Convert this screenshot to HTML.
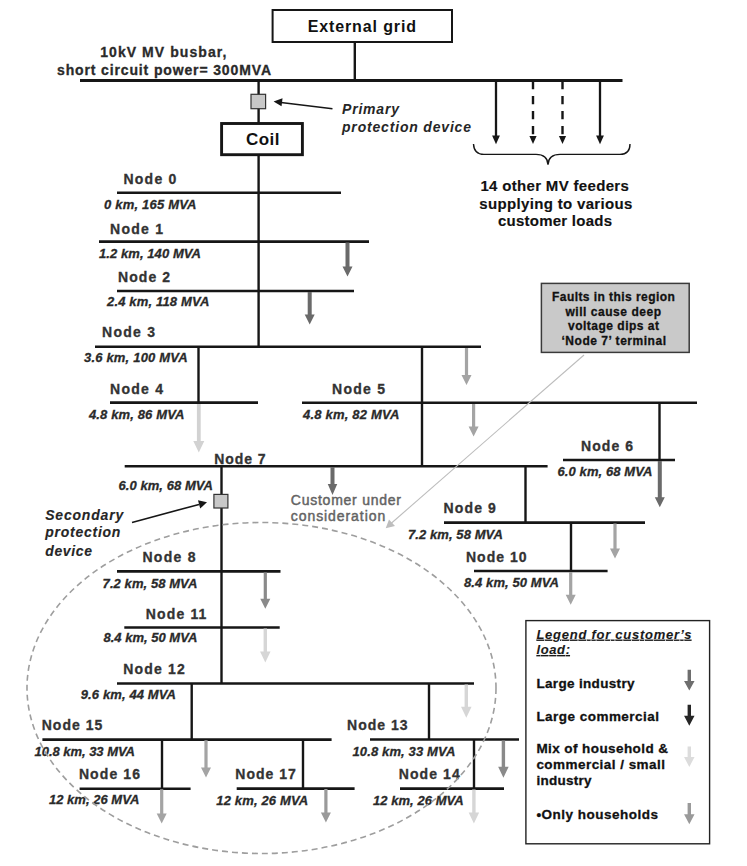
<!DOCTYPE html>
<html><head><meta charset="utf-8"><style>
html,body{margin:0;padding:0;background:#fff;}
svg{display:block;font-family:"Liberation Sans",sans-serif;}
</style></head><body>
<svg width="747" height="866" viewBox="0 0 747 866">
<rect width="747" height="866" fill="#fff"/>
<rect x="272.6" y="10" width="179.4" height="32" fill="#fff" stroke="#161616" stroke-width="2"/>
<text x="307.7" y="31.7" font-size="16" font-weight="bold" font-style="normal" fill="#111" textLength="108.3" lengthAdjust="spacing" stroke="none">External grid</text>
<line x1="354.8" y1="42" x2="354.8" y2="80" stroke="#161616" stroke-width="2.4"/>
<line x1="80" y1="80.6" x2="622.5" y2="80.6" stroke="#161616" stroke-width="3"/>
<text x="100.2" y="56.8" font-size="14" font-weight="bold" font-style="normal" fill="#2a2a2a" textLength="126.2" lengthAdjust="spacing"  stroke="#2a2a2a" stroke-width="0.3">10kV MV busbar,</text>
<text x="57" y="74.5" font-size="14" font-weight="bold" font-style="normal" fill="#2a2a2a" textLength="214" lengthAdjust="spacing"  stroke="#2a2a2a" stroke-width="0.3">short circuit power= 300MVA</text>
<line x1="258.6" y1="80" x2="258.6" y2="347" stroke="#161616" stroke-width="2.4"/>
<rect x="251" y="94.3" width="14.6" height="14.4" fill="#c8c8c8" stroke="#333" stroke-width="1.2"/>
<line x1="332.5" y1="108.7" x2="281" y2="102.4" stroke="#161616" stroke-width="1.5"/>
<path d="M273.6,101.5 L282.5,98.3 L281.5,106.3 Z" fill="#161616"/>
<text x="342" y="113.6" font-size="14" font-weight="bold" font-style="italic" fill="#262626" textLength="57" lengthAdjust="spacing" stroke="none">Primary</text>
<text x="342" y="131.6" font-size="14" font-weight="bold" font-style="italic" fill="#262626" textLength="129" lengthAdjust="spacing" stroke="none">protection device</text>
<rect x="221.6" y="123.5" width="80.8" height="31.2" fill="#fff" stroke="#161616" stroke-width="2.9"/>
<text x="246" y="145.4" font-size="17" font-weight="bold" font-style="normal" fill="#111" textLength="33.5" lengthAdjust="spacing" stroke="none">Coil</text>
<line x1="496" y1="80" x2="496" y2="137" stroke="#161616" stroke-width="2.3"/>
<path d="M492.1,135.6 L499.9,135.6 L496,144.2 Z" fill="#161616"/>
<line x1="533" y1="81" x2="533" y2="136.5" stroke="#161616" stroke-width="2.4" stroke-dasharray="8.3,6.7"/>
<path d="M529.4,136 L536.6,136 L533,144 Z" fill="#161616"/>
<line x1="562.5" y1="81" x2="562.5" y2="136.5" stroke="#161616" stroke-width="2.4" stroke-dasharray="8.3,6.7"/>
<path d="M558.9,136 L566.1,136 L562.5,144 Z" fill="#161616"/>
<line x1="600" y1="80" x2="600" y2="137" stroke="#161616" stroke-width="2.3"/>
<path d="M596.1,135.6 L603.9,135.6 L600,144.2 Z" fill="#161616"/>
<path d="M473.5,144 Q474,154.4 484,154.4 L536,154.4 Q547.5,154.4 548,164.6 Q548.5,154.4 560,154.4 L620,154.4 Q630,154.4 630,144" fill="none" stroke="#161616" stroke-width="1.4"/>
<text x="480.4" y="190.8" font-size="15" font-weight="bold" font-style="normal" fill="#111" textLength="148.4" lengthAdjust="spacing" stroke="#111" stroke-width="0.15">14 other MV feeders</text>
<text x="479.3" y="208.5" font-size="15" font-weight="bold" font-style="normal" fill="#111" textLength="153.1" lengthAdjust="spacing" stroke="#111" stroke-width="0.15">supplying to various</text>
<text x="498" y="225.6" font-size="15" font-weight="bold" font-style="normal" fill="#111" textLength="114" lengthAdjust="spacing" stroke="#111" stroke-width="0.15">customer loads</text>
<text x="123.4" y="184" font-size="14" font-weight="bold" font-style="normal" fill="#333" textLength="53.0" lengthAdjust="spacing" stroke="#333" stroke-width="0.3">Node 0</text>
<text x="110" y="233.5" font-size="14" font-weight="bold" font-style="normal" fill="#333" textLength="53" lengthAdjust="spacing" stroke="#333" stroke-width="0.3">Node 1</text>
<text x="118" y="281.7" font-size="14" font-weight="bold" font-style="normal" fill="#333" textLength="52" lengthAdjust="spacing" stroke="#333" stroke-width="0.3">Node 2</text>
<text x="102" y="337" font-size="14" font-weight="bold" font-style="normal" fill="#333" textLength="53" lengthAdjust="spacing" stroke="#333" stroke-width="0.3">Node 3</text>
<text x="110" y="393.6" font-size="14" font-weight="bold" font-style="normal" fill="#333" textLength="53" lengthAdjust="spacing" stroke="#333" stroke-width="0.3">Node 4</text>
<text x="332" y="393.5" font-size="14" font-weight="bold" font-style="normal" fill="#333" textLength="53" lengthAdjust="spacing" stroke="#333" stroke-width="0.3">Node 5</text>
<text x="581" y="451" font-size="14" font-weight="bold" font-style="normal" fill="#333" textLength="52" lengthAdjust="spacing" stroke="#333" stroke-width="0.3">Node 6</text>
<text x="214.3" y="463.5" font-size="14" font-weight="bold" font-style="normal" fill="#333" textLength="51.3" lengthAdjust="spacing" stroke="#333" stroke-width="0.3">Node 7</text>
<text x="443.5" y="513.2" font-size="14" font-weight="bold" font-style="normal" fill="#333" textLength="52.4" lengthAdjust="spacing" stroke="#333" stroke-width="0.3">Node 9</text>
<text x="465.9" y="562.4" font-size="14" font-weight="bold" font-style="normal" fill="#333" textLength="60.7" lengthAdjust="spacing" stroke="#333" stroke-width="0.3">Node 10</text>
<text x="142.4" y="562.4" font-size="14" font-weight="bold" font-style="normal" fill="#333" textLength="53.1" lengthAdjust="spacing" stroke="#333" stroke-width="0.3">Node 8</text>
<text x="145.7" y="618.8" font-size="14" font-weight="bold" font-style="normal" fill="#333" textLength="60.7" lengthAdjust="spacing" stroke="#333" stroke-width="0.3">Node 11</text>
<text x="123.2" y="673.7" font-size="14" font-weight="bold" font-style="normal" fill="#333" textLength="61.5" lengthAdjust="spacing" stroke="#333" stroke-width="0.3">Node 12</text>
<text x="41.7" y="729.7" font-size="14" font-weight="bold" font-style="normal" fill="#333" textLength="60.7" lengthAdjust="spacing" stroke="#333" stroke-width="0.3">Node 15</text>
<text x="78.9" y="779.3" font-size="14" font-weight="bold" font-style="normal" fill="#333" textLength="61.1" lengthAdjust="spacing" stroke="#333" stroke-width="0.3">Node 16</text>
<text x="235.3" y="779.3" font-size="14" font-weight="bold" font-style="normal" fill="#333" textLength="60.5" lengthAdjust="spacing" stroke="#333" stroke-width="0.3">Node 17</text>
<text x="347" y="729.8" font-size="14" font-weight="bold" font-style="normal" fill="#333" textLength="60.6" lengthAdjust="spacing" stroke="#333" stroke-width="0.3">Node 13</text>
<text x="398.8" y="779.3" font-size="14" font-weight="bold" font-style="normal" fill="#333" textLength="60.9" lengthAdjust="spacing" stroke="#333" stroke-width="0.3">Node 14</text>
<text x="104" y="209" font-size="13" font-weight="bold" font-style="italic" fill="#2a2a2a" textLength="92.5" lengthAdjust="spacing" stroke="#2a2a2a" stroke-width="0.3">0 km, 165 MVA</text>
<text x="99" y="258.4" font-size="13" font-weight="bold" font-style="italic" fill="#2a2a2a" textLength="102" lengthAdjust="spacing" stroke="#2a2a2a" stroke-width="0.3">1.2 km, 140 MVA</text>
<text x="107" y="306" font-size="13" font-weight="bold" font-style="italic" fill="#2a2a2a" textLength="102.3" lengthAdjust="spacing" stroke="#2a2a2a" stroke-width="0.3">2.4 km, 118 MVA</text>
<text x="84" y="362.3" font-size="13" font-weight="bold" font-style="italic" fill="#2a2a2a" textLength="103.6" lengthAdjust="spacing" stroke="#2a2a2a" stroke-width="0.3">3.6 km, 100 MVA</text>
<text x="89" y="419" font-size="13" font-weight="bold" font-style="italic" fill="#2a2a2a" textLength="95.4" lengthAdjust="spacing" stroke="#2a2a2a" stroke-width="0.3">4.8 km, 86 MVA</text>
<text x="303" y="419" font-size="13" font-weight="bold" font-style="italic" fill="#2a2a2a" textLength="96.3" lengthAdjust="spacing" stroke="#2a2a2a" stroke-width="0.3">4.8 km, 82 MVA</text>
<text x="557.5" y="475.7" font-size="13" font-weight="bold" font-style="italic" fill="#2a2a2a" textLength="95.0" lengthAdjust="spacing" stroke="#2a2a2a" stroke-width="0.3">6.0 km, 68 MVA</text>
<text x="118.5" y="489.5" font-size="13" font-weight="bold" font-style="italic" fill="#2a2a2a" textLength="94.5" lengthAdjust="spacing" stroke="#2a2a2a" stroke-width="0.3">6.0 km, 68 MVA</text>
<text x="408" y="538.5" font-size="13" font-weight="bold" font-style="italic" fill="#2a2a2a" textLength="94.8" lengthAdjust="spacing" stroke="#2a2a2a" stroke-width="0.3">7.2 km, 58 MVA</text>
<text x="464" y="587.3" font-size="13" font-weight="bold" font-style="italic" fill="#2a2a2a" textLength="95" lengthAdjust="spacing" stroke="#2a2a2a" stroke-width="0.3">8.4 km, 50 MVA</text>
<text x="102.6" y="587.7" font-size="13" font-weight="bold" font-style="italic" fill="#2a2a2a" textLength="94.7" lengthAdjust="spacing" stroke="#2a2a2a" stroke-width="0.3">7.2 km, 58 MVA</text>
<text x="103.4" y="642" font-size="13" font-weight="bold" font-style="italic" fill="#2a2a2a" textLength="93.9" lengthAdjust="spacing" stroke="#2a2a2a" stroke-width="0.3">8.4 km, 50 MVA</text>
<text x="80.7" y="699" font-size="13" font-weight="bold" font-style="italic" fill="#2a2a2a" textLength="95.3" lengthAdjust="spacing" stroke="#2a2a2a" stroke-width="0.3">9.6 km, 44 MVA</text>
<text x="34.5" y="755.8" font-size="13" font-weight="bold" font-style="italic" fill="#2a2a2a" textLength="100.5" lengthAdjust="spacing" stroke="#2a2a2a" stroke-width="0.3">10.8 km, 33 MVA</text>
<text x="48.9" y="803.8" font-size="13" font-weight="bold" font-style="italic" fill="#2a2a2a" textLength="90.4" lengthAdjust="spacing" stroke="#2a2a2a" stroke-width="0.3">12 km, 26 MVA</text>
<text x="216.3" y="804.9" font-size="13" font-weight="bold" font-style="italic" fill="#2a2a2a" textLength="91.9" lengthAdjust="spacing" stroke="#2a2a2a" stroke-width="0.3">12 km, 26 MVA</text>
<text x="352.4" y="756" font-size="13" font-weight="bold" font-style="italic" fill="#2a2a2a" textLength="102.9" lengthAdjust="spacing" stroke="#2a2a2a" stroke-width="0.3">10.8 km, 33 MVA</text>
<text x="373" y="805" font-size="13" font-weight="bold" font-style="italic" fill="#2a2a2a" textLength="90.7" lengthAdjust="spacing" stroke="#2a2a2a" stroke-width="0.3">12 km, 26 MVA</text>
<line x1="117" y1="192.8" x2="341" y2="192.8" stroke="#161616" stroke-width="2.6"/>
<line x1="99" y1="241.6" x2="369" y2="241.6" stroke="#161616" stroke-width="2.6"/>
<line x1="117" y1="291" x2="354" y2="291" stroke="#161616" stroke-width="2.6"/>
<line x1="95" y1="346.8" x2="481" y2="346.8" stroke="#161616" stroke-width="2.6"/>
<line x1="198.5" y1="346.8" x2="198.5" y2="402.6" stroke="#161616" stroke-width="2.4"/>
<line x1="422" y1="346.8" x2="422" y2="466" stroke="#161616" stroke-width="2.4"/>
<line x1="110" y1="402.6" x2="258" y2="402.6" stroke="#161616" stroke-width="2.6"/>
<line x1="302" y1="402.7" x2="697" y2="402.7" stroke="#161616" stroke-width="2.6"/>
<line x1="659.5" y1="402.7" x2="659.5" y2="460" stroke="#161616" stroke-width="2.4"/>
<line x1="563" y1="460" x2="675" y2="460" stroke="#161616" stroke-width="2.6"/>
<line x1="124.7" y1="466.2" x2="547.6" y2="466.2" stroke="#161616" stroke-width="2.6"/>
<line x1="525.5" y1="466.2" x2="525.5" y2="522.6" stroke="#161616" stroke-width="2.4"/>
<line x1="444" y1="522.6" x2="645" y2="522.6" stroke="#161616" stroke-width="2.6"/>
<line x1="571" y1="522.6" x2="571" y2="571" stroke="#161616" stroke-width="2.4"/>
<line x1="474" y1="571" x2="607.6" y2="571" stroke="#161616" stroke-width="2.6"/>
<line x1="221.5" y1="466.2" x2="221.5" y2="683.5" stroke="#161616" stroke-width="2.4"/>
<line x1="117" y1="571.4" x2="280.5" y2="571.4" stroke="#161616" stroke-width="2.6"/>
<line x1="124.3" y1="627.5" x2="279.7" y2="627.5" stroke="#161616" stroke-width="2.6"/>
<line x1="117" y1="683.5" x2="474" y2="683.5" stroke="#161616" stroke-width="2.6"/>
<line x1="191.7" y1="683.5" x2="191.7" y2="739.2" stroke="#161616" stroke-width="2.4"/>
<line x1="429" y1="683.5" x2="429" y2="739.5" stroke="#161616" stroke-width="2.4"/>
<line x1="42.4" y1="739.6" x2="331.6" y2="739.6" stroke="#161616" stroke-width="2.6"/>
<line x1="370" y1="739.5" x2="519" y2="739.5" stroke="#161616" stroke-width="2.6"/>
<line x1="162" y1="739.2" x2="162" y2="788.3" stroke="#161616" stroke-width="2.4"/>
<line x1="303" y1="739.2" x2="303" y2="788" stroke="#161616" stroke-width="2.4"/>
<line x1="474" y1="739.5" x2="474" y2="788" stroke="#161616" stroke-width="2.4"/>
<line x1="79.6" y1="788.8" x2="190.6" y2="788.8" stroke="#161616" stroke-width="2.6"/>
<line x1="236.7" y1="788.6" x2="354.6" y2="788.6" stroke="#161616" stroke-width="2.6"/>
<line x1="400" y1="788.6" x2="504" y2="788.6" stroke="#161616" stroke-width="2.6"/>
<rect x="213.9" y="494.4" width="14" height="13.6" fill="#c8c8c8" stroke="#333" stroke-width="1.2"/>
<line x1="132" y1="522.4" x2="199" y2="504.4" stroke="#161616" stroke-width="1.6"/>
<path d="M207,502.2 L198,500.2 L200.2,508.6 Z" fill="#161616"/>
<text x="45.2" y="520.2" font-size="14" font-weight="bold" font-style="italic" fill="#262626" textLength="78.0" lengthAdjust="spacing" stroke="#262626" stroke-width="0.12">Secondary</text>
<text x="45.2" y="537.2" font-size="14" font-weight="bold" font-style="italic" fill="#262626" textLength="75.2" lengthAdjust="spacing" stroke="#262626" stroke-width="0.12">protection</text>
<text x="45.2" y="556.2" font-size="14" font-weight="bold" font-style="italic" fill="#262626" textLength="46.8" lengthAdjust="spacing" stroke="#262626" stroke-width="0.12">device</text>
<text x="290.8" y="504.6" font-size="14" font-weight="normal" font-style="normal" fill="#636363" textLength="110.2" lengthAdjust="spacing" stroke="#636363" stroke-width="0.45">Customer under</text>
<text x="290.8" y="521.2" font-size="14" font-weight="normal" font-style="normal" fill="#636363" textLength="94.4" lengthAdjust="spacing" stroke="#636363" stroke-width="0.45">consideration</text>
<path d="M345.5,242.5 L349.5,242.5 L349.5,266.5 L352.5,266.5 L347.5,276.5 L342.5,266.5 L345.5,266.5 Z" fill="#6a6a6a"/>
<path d="M307.7,292 L311.7,292 L311.7,314.5 L314.7,314.5 L309.7,324.5 L304.7,314.5 L307.7,314.5 Z" fill="#6a6a6a"/>
<path d="M464.9,348 L468.1,348 L468.1,375 L471.5,375 L466.5,385 L461.5,375 L464.9,375 Z" fill="#a4a4a4"/>
<path d="M196.9,404 L200.70000000000002,404 L200.70000000000002,441.0 L204.3,441.0 L198.8,452.4 L193.3,441.0 L196.9,441.0 Z" fill="#d2d2d2"/>
<path d="M472.0,404 L475.20000000000005,404 L475.20000000000005,426.4 L478.6,426.4 L473.6,436.4 L468.6,426.4 L472.0,426.4 Z" fill="#a4a4a4"/>
<path d="M657.8,461 L661.8,461 L661.8,497.3 L664.8,497.3 L659.8,507.3 L654.8,497.3 L657.8,497.3 Z" fill="#6a6a6a"/>
<path d="M330.5,467 L334.5,467 L334.5,484 L337.25,484 L332.5,495 L327.75,484 L330.5,484 Z" fill="#6a6a6a"/>
<path d="M613.4,523.6 L616.6,523.6 L616.6,548.4 L620.0,548.4 L615,558.4 L610.0,548.4 L613.4,548.4 Z" fill="#a4a4a4"/>
<path d="M569.1,572 L572.3000000000001,572 L572.3000000000001,594.7 L575.7,594.7 L570.7,604.7 L565.7,594.7 L569.1,594.7 Z" fill="#a4a4a4"/>
<path d="M263.7,572.4 L266.90000000000003,572.4 L266.90000000000003,598.7 L270.3,598.7 L265.3,608.7 L260.3,598.7 L263.7,598.7 Z" fill="#8a8a8a"/>
<path d="M263.6,628.5 L267.0,628.5 L267.0,651.5 L270.55,651.5 L265.3,662.5 L260.05,651.5 L263.6,651.5 Z" fill="#d6d6d6"/>
<path d="M464.6,684.5 L468.0,684.5 L468.0,706.8 L471.55,706.8 L466.3,717.8 L461.05,706.8 L464.6,706.8 Z" fill="#d6d6d6"/>
<path d="M204.4,740.2 L207.6,740.2 L207.6,767.5 L211.0,767.5 L206,777.5 L201.0,767.5 L204.4,767.5 Z" fill="#a4a4a4"/>
<path d="M160.1,789.3 L163.29999999999998,789.3 L163.29999999999998,813.4 L166.7,813.4 L161.7,823.4 L156.7,813.4 L160.1,813.4 Z" fill="#a4a4a4"/>
<path d="M324.29999999999995,789 L327.5,789 L327.5,812.5 L330.9,812.5 L325.9,822.5 L320.9,812.5 L324.29999999999995,812.5 Z" fill="#9a9a9a"/>
<path d="M501.7,740.5 L505.09999999999997,740.5 L505.09999999999997,766.8 L508.65,766.8 L503.4,777.8 L498.15,766.8 L501.7,766.8 Z" fill="#8a8a8a"/>
<path d="M472.2,789.5 L475.59999999999997,789.5 L475.59999999999997,812.5 L479.15,812.5 L473.9,823.5 L468.65,812.5 L472.2,812.5 Z" fill="#d6d6d6"/>
<rect x="541.4" y="283.4" width="147.8" height="69" fill="#c9c9c9" stroke="#3a3a3a" stroke-width="1.5"/>
<text x="552" y="300.6" font-size="12" font-weight="bold" font-style="normal" fill="#111" textLength="122.8" lengthAdjust="spacing"  stroke="#111" stroke-width="0.3">Faults in this region</text>
<text x="565.5" y="315.6" font-size="12" font-weight="bold" font-style="normal" fill="#111" textLength="95.5" lengthAdjust="spacing"  stroke="#111" stroke-width="0.3">will cause deep</text>
<text x="568" y="330.2" font-size="12" font-weight="bold" font-style="normal" fill="#111" textLength="91" lengthAdjust="spacing"  stroke="#111" stroke-width="0.3">voltage dips at</text>
<text x="561.5" y="345.2" font-size="12" font-weight="bold" font-style="normal" fill="#111" textLength="104.5" lengthAdjust="spacing"  stroke="#111" stroke-width="0.3">‘Node 7’ terminal</text>
<line x1="584" y1="355" x2="391" y2="523.5" stroke="#bdbdbd" stroke-width="1.1"/>
<path d="M385.7,528.2 L389,519.5 L395,526 Z" fill="#bdbdbd"/>
<ellipse cx="261.5" cy="688" rx="234.5" ry="165.5" fill="none" stroke="#9e9e9e" stroke-width="1.6" stroke-dasharray="6,4"/>
<rect x="525.9" y="620.6" width="183.7" height="223.2" fill="#fff" stroke="#222" stroke-width="1.4"/>
<text x="536.4" y="638.6" font-size="13" font-weight="bold" font-style="italic" fill="#1a1a1a" textLength="155.2" lengthAdjust="spacing" text-decoration="underline" stroke="#1a1a1a" stroke-width="0.1">Legend for customer’s</text>
<text x="536.4" y="654" font-size="13" font-weight="bold" font-style="italic" fill="#1a1a1a" textLength="33.6" lengthAdjust="spacing" text-decoration="underline" stroke="#1a1a1a" stroke-width="0.1">load:</text>
<text x="536.4" y="688" font-size="13.5" font-weight="bold" font-style="normal" fill="#111" textLength="98.1" lengthAdjust="spacing"  stroke="#111" stroke-width="0.3">Large industry</text>
<text x="536.4" y="720.6" font-size="13.5" font-weight="bold" font-style="normal" fill="#111" textLength="122.6" lengthAdjust="spacing"  stroke="#111" stroke-width="0.3">Large commercial</text>
<text x="536.4" y="752.5" font-size="13.5" font-weight="bold" font-style="normal" fill="#111" textLength="131.6" lengthAdjust="spacing"  stroke="#111" stroke-width="0.3">Mix of household &amp;</text>
<text x="536.4" y="769" font-size="13.5" font-weight="bold" font-style="normal" fill="#111" textLength="128.6" lengthAdjust="spacing"  stroke="#111" stroke-width="0.3">commercial / small</text>
<text x="536.4" y="785" font-size="13.5" font-weight="bold" font-style="normal" fill="#111" textLength="55.2" lengthAdjust="spacing"  stroke="#111" stroke-width="0.3">industry</text>
<text x="536.4" y="819" font-size="13.5" font-weight="bold" font-style="normal" fill="#111" textLength="121.6" lengthAdjust="spacing"  stroke="#111" stroke-width="0.3">•Only households</text>
<path d="M687.5999999999999,669.8 L691.0,669.8 L691.0,681.1 L694.55,681.1 L689.3,690.6 L684.05,681.1 L687.5999999999999,681.1 Z" fill="#6e6e6e"/>
<path d="M687.5999999999999,704.8 L691.0,704.8 L691.0,715.8 L694.55,715.8 L689.3,725.8 L684.05,715.8 L687.5999999999999,715.8 Z" fill="#262626"/>
<path d="M687.5999999999999,746.4 L691.0,746.4 L691.0,757 L694.55,757 L689.3,767 L684.05,757 L687.5999999999999,757 Z" fill="#dcdcdc"/>
<path d="M687.5999999999999,803 L691.0,803 L691.0,814.2 L694.55,814.2 L689.3,824.2 L684.05,814.2 L687.5999999999999,814.2 Z" fill="#9a9a9a"/>
</svg>
</body></html>
